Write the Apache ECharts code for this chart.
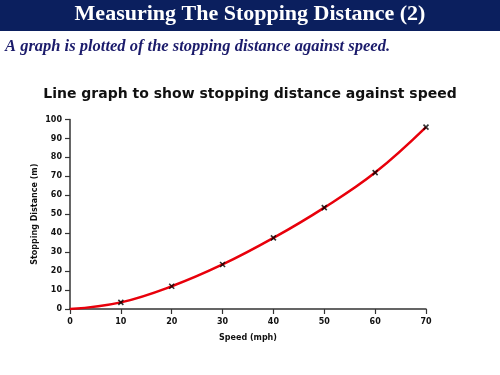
<!DOCTYPE html>
<html><head><meta charset="utf-8">
<script src="https://cdn.jsdelivr.net/npm/echarts@6/dist/echarts.min.js"></script>
<style>html,body{margin:0;padding:0;background:#fff}#c{width:500px;height:375px}</style>
</head><body><div id="c"></div>
<script>
const speeds = [0, 10, 20, 30, 40, 50, 60, 70];
const distances = [0, 3.5, 12, 23.5, 37.5, 53.5, 72, 96];
const markedSpeeds = [10, 20, 30, 40, 50, 60, 70];
const markedDistances = [3.5, 12, 23.5, 37.5, 53.5, 72, 96];
const xTicks = [0, 10, 20, 30, 40, 50, 60, 70];
const yTicks = [0, 10, 20, 30, 40, 50, 60, 70, 80, 90, 100];

const chart = echarts.init(document.getElementById('c'), null, {renderer: 'canvas'});
const axisCol = '#333';
const lblFont = {fontFamily: 'DejaVu Sans', fontWeight: 'bold', fontSize: 8, color: '#111'};
chart.setOption({
  animation: false,
  graphic: [
    {type: 'rect', left: 0, top: 0, shape: {width: 500, height: 31}, style: {fill: '#0b1f5e'}},
    {type: 'text', left: 'center', top: 3, style: {text: 'Measuring The Stopping Distance (2)', fill: '#fff',
      font: 'bold 22px "Liberation Serif"'}},
    {type: 'text', left: 5, top: 38, style: {text: 'A graph is plotted of the stopping distance against speed.', fill: '#1b1b6b',
      font: 'italic bold 16.5px "Liberation Serif"'}}
  ],
  title: {text: 'Line graph to show stopping distance against speed', left: 'center', top: 82,
    textStyle: {fontFamily: 'DejaVu Sans', fontWeight: 'bold', fontSize: 14, color: '#111'}},
  grid: {left: 70, right: 74, top: 119.5, bottom: 66},
  xAxis: {type: 'value', min: 0, max: 70, interval: 10, name: 'Speed (mph)', nameLocation: 'middle', nameGap: 25,
    nameTextStyle: lblFont, nameMoveOverlap: false,
    axisLine: {onZero: false, lineStyle: {color: axisCol, width: 1.5}},
    axisTick: {show: true, length: 5, lineStyle: {color: axisCol, width: 1.2}},
    axisLabel: Object.assign({margin: 9}, lblFont),
    splitLine: {show: false}},
  yAxis: {type: 'value', min: 0, max: 100, interval: 10, name: 'Stopping Distance (m)', nameLocation: 'middle', nameGap: 31,
    nameTextStyle: lblFont, nameMoveOverlap: false,
    axisLine: {show: true, lineStyle: {color: axisCol, width: 1.5}},
    axisTick: {show: true, length: 5, lineStyle: {color: axisCol, width: 1.2}},
    axisLabel: Object.assign({margin: 8}, lblFont),
    splitLine: {show: false}},
  series: [
    {type: 'line', data: speeds.map((s, i) => [s, distances[i]]), smooth: 0.4, showSymbol: false,
      lineStyle: {color: '#e8000b', width: 2.5}, z: 2},
    {type: 'scatter', data: markedSpeeds.map((s, i) => [s, markedDistances[i]]),
      symbol: 'path://M0,0 L10,10 M10,0 L0,10', symbolSize: 5,
      itemStyle: {color: 'none', borderColor: '#000', borderWidth: 1.6}, z: 3}
  ]
});
</script></body></html>
